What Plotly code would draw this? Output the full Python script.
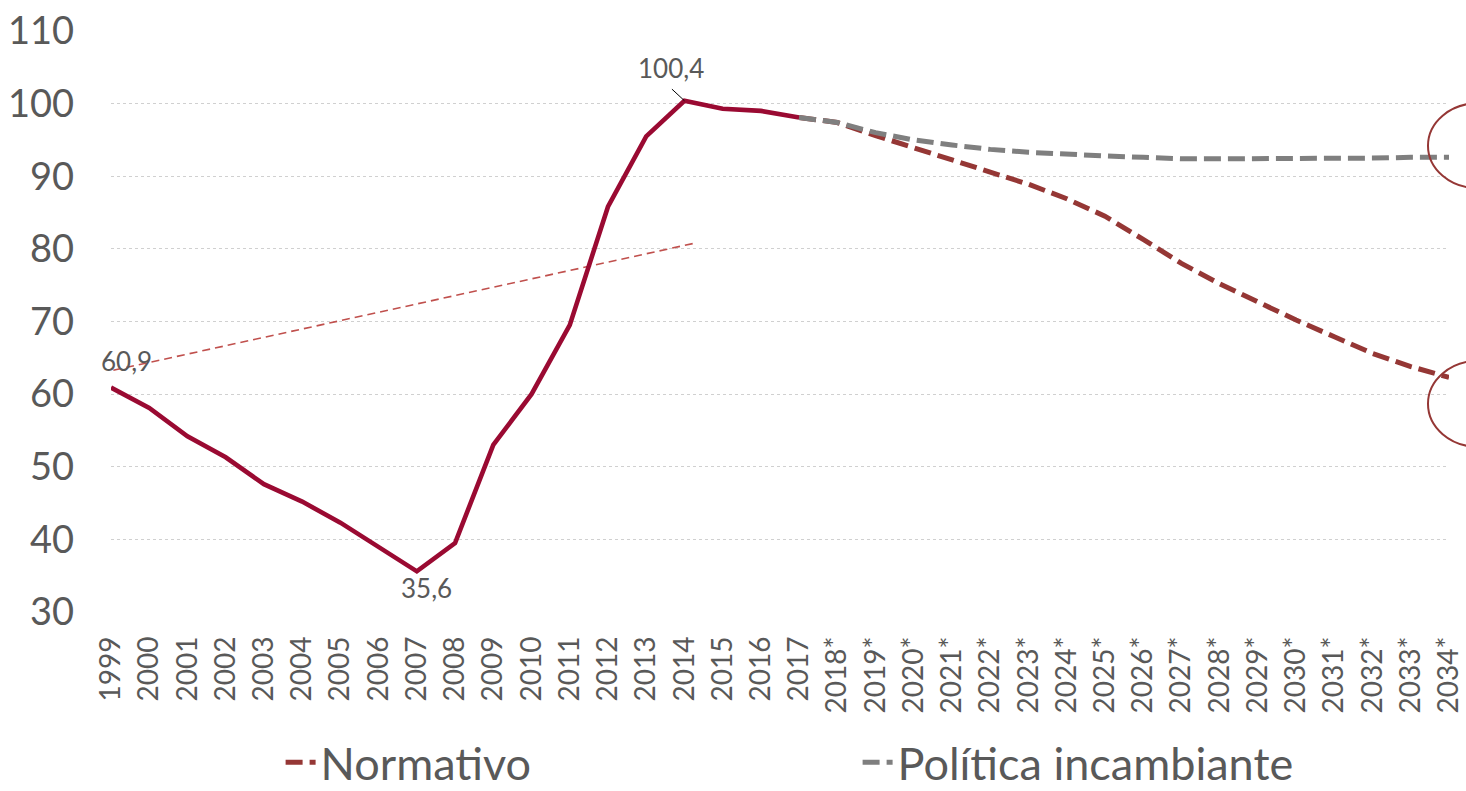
import plotly.graph_objects as go

# ---------------- data ----------------
years = [str(y) for y in range(1999, 2018)] + [f"{y}*" for y in range(2018, 2035)]
hist_values = [60.9, 58.1, 54.2, 51.3, 47.6, 45.2, 42.3, 38.9, 35.6, 39.5,
               53.0, 60.0, 69.5, 85.8, 95.5, 100.4, 99.3, 99.0, 98.1]
normativo = [98.1, 97.4, 95.6, 93.9, 92.2, 90.6, 88.9, 86.9, 84.5, 81.3,
             78.0, 75.2, 72.7, 70.2, 67.9, 65.6, 63.8, 62.3]
politica = [98.1, 97.4, 96.0, 95.0, 94.3, 93.7, 93.3, 93.0, 92.8, 92.6,
            92.4, 92.4, 92.4, 92.4, 92.5, 92.5, 92.6, 92.6]
trend_pos = [-0.27, 15.28]      # position along the category axis
trend_values = [62.9, 80.8]
y_ticks = [30, 40, 50, 60, 70, 80, 90, 100, 110]

idx_all = list(range(len(years)))
idx_hist = idx_all[:len(hist_values)]
idx_proj = idx_all[len(hist_values) - 1:]
i_min = hist_values.index(min(hist_values))
i_max = hist_values.index(max(hist_values))

FONT = "Lato"
TXT = "#595959"

fig = go.Figure()

fig.add_trace(go.Scatter(x=trend_pos, y=trend_values, mode="lines",
                         line=dict(color="#C0504D", width=1.6, dash="8px,5px"),
                         showlegend=False, hoverinfo="skip"))
fig.add_trace(go.Scatter(x=idx_hist, y=hist_values, mode="lines",
                         line=dict(color="#9A0A32", width=4.6),
                         showlegend=False))
fig.add_trace(go.Scatter(x=idx_proj, y=normativo, mode="lines", name="Normativo",
                         line=dict(color="#953735", width=5, dash="17px,7px")))
fig.add_trace(go.Scatter(x=idx_proj, y=politica, mode="lines", name="Política incambiante",
                         line=dict(color="#7F7F7F", width=5, dash="17px,7px")))

# value labels
fig.add_annotation(x=0, y=hist_values[0], text="60,9", showarrow=False,
                   xshift=15, yshift=27, font=dict(family=FONT, size=26, color=TXT))
fig.add_annotation(x=i_min, y=hist_values[i_min], text="35,6", showarrow=False,
                   xshift=10, yshift=-17, font=dict(family=FONT, size=26, color=TXT))
fig.add_annotation(x=i_max, y=hist_values[i_max], text="", showarrow=True,
                   ax=-14, ay=-13, arrowhead=0, arrowwidth=1, arrowcolor="black",
                   standoff=0, startstandoff=0)
fig.add_annotation(x=i_max, y=hist_values[i_max], text="100,4", showarrow=False,
                   xshift=-13, yshift=33, font=dict(family=FONT, size=26, color=TXT))

# highlight ellipses at the right edge
fig.add_shape(type="circle", xref="paper", yref="paper",
              x0=0.9843, x1=1.059, y0=0.7295, y1=0.8757,
              line=dict(color="#953735", width=2))
fig.add_shape(type="circle", xref="paper", yref="paper",
              x0=0.9843, x1=1.059, y0=0.2844, y1=0.4323,
              line=dict(color="#953735", width=2))

fig.update_layout(
    template="none",
    width=1466, height=791,
    margin=dict(l=111, r=17, t=31, b=179, autoexpand=False),
    paper_bgcolor="white", plot_bgcolor="white",
    font=dict(family=FONT, color=TXT),
    showlegend=True,
    legend=dict(orientation="h", x=0.558, xanchor="center", y=-0.259, yanchor="middle",
                font=dict(family=FONT, size=45, color=TXT),
                entrywidth=532, itemwidth=30, bgcolor="rgba(0,0,0,0)"),
    xaxis=dict(range=[0, 35], tickmode="array", tickvals=idx_all, ticktext=years,
               tickangle=-90, tickfont=dict(family=FONT, size=28, color=TXT),
               showgrid=False, zeroline=False, showline=False, ticks="",
               ticklabelstandoff=18, automargin=False),
    yaxis=dict(range=[30, 110], tickmode="array", tickvals=y_ticks,
               tickfont=dict(family=FONT, size=38, color=TXT),
               showgrid=True, gridcolor="#D0D0D0", gridwidth=1, griddash="dot",
               zeroline=False, showline=False, ticks="",
               ticklabelstandoff=36, automargin=False),
)

fig.write_html("out.html", config={"displayModeBar": False},
               post_script="document.body.style.margin='0';document.body.style.overflow='hidden';")
